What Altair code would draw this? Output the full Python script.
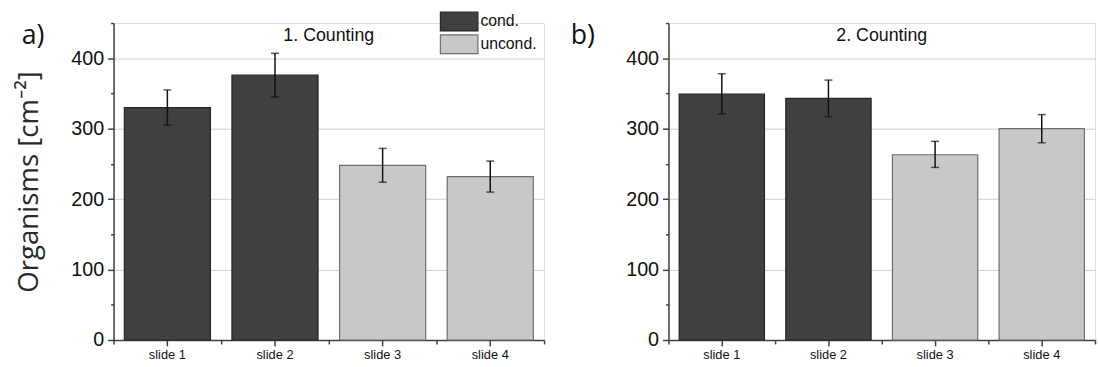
import altair as alt
import pandas as pd

slides = ["slide 1", "slide 2", "slide 3", "slide 4"]
groups = ["cond.", "cond.", "uncond.", "uncond."]

mean_a = [330, 376, 248, 232]
low_a = [305, 345, 224, 210]
high_a = [355, 407, 272, 254]

mean_b = [349, 343, 263, 300]
low_b = [321, 317, 245, 280]
high_b = [378, 369, 282, 320]

y_ticks = [0, 50, 100, 150, 200, 250, 300, 350, 400, 450]
x_minor_ticks = [0, 1, 2, 3, 4]  # boundaries between slide categories
group_domain = ["cond.", "uncond."]
fill_range = ["#404040", "#c8c8c8"]
stroke_range = ["#262626", "#6e6e6e"]

FONT = "Liberation Sans"
AX = "#404040"


def panel(letter, letter_x, title, mean, low, high, width, ytitle):
    df = pd.DataFrame({"slide": slides, "group": groups, "mean": mean,
                       "low": low, "high": high})
    xscale = alt.Scale(paddingInner=0.2, paddingOuter=0.1)
    yscale = alt.Scale(domain=[0, 450], nice=False)
    yaxis_kwargs = dict(
        values=y_ticks,
        labelExpr="datum.value % 100 === 0 ? datum.label : ''",
        tickSize={"condition": {"test": "datum.value % 100 === 0", "value": 6}, "value": 3},
        grid=True,
        gridColor="#cfcfcf",
        gridWidth=1,
        gridOpacity={"condition": {"test": "datum.value % 100 === 0 && datum.value > 0", "value": 1}, "value": 0},
        domainColor=AX, domainWidth=1.5, tickColor=AX, tickWidth=1.5,
        labelFont=FONT, labelFontSize=20, labelColor="#111111", labelPadding=4,
        labelOverlap=False,
    )
    if ytitle:
        yaxis = alt.Axis(title=ytitle, titleFont="Open Sans", titleFontSize=28,
                         titleFontWeight="normal", titleColor="#2a2a2a", titlePadding=28,
                         **yaxis_kwargs)
    else:
        yaxis = alt.Axis(title="", **yaxis_kwargs)

    legend = alt.Legend(orient="none", legendX=width - 96.5, legendY=-12, title=None,
                        symbolType="M-2,-1H2V1H-2Z", symbolSize=361,
                        symbolStrokeWidth=1.2, symbolOpacity=1, rowPadding=-5,
                        labelFont=FONT, labelFontSize=16, labelColor="#111111",
                        labelOffset=11, padding=0)

    bars = alt.Chart(df).mark_bar(strokeWidth=1.2, opacity=1).encode(
        x=alt.X("slide:N", sort=slides, scale=xscale,
                axis=alt.Axis(title=None, labelAngle=0, labelFont=FONT, labelFontSize=13,
                              labelColor="#111111", tickSize=6, tickColor=AX, tickWidth=1.5,
                              domainColor=AX, domainWidth=1.5, labelPadding=3, grid=False)),
        y=alt.Y("mean:Q", scale=yscale, axis=yaxis),
        color=alt.Color("group:N", scale=alt.Scale(domain=group_domain, range=fill_range),
                        legend=legend),
        stroke=alt.Stroke("group:N", scale=alt.Scale(domain=group_domain, range=stroke_range),
                          legend=legend),
    )

    rules = alt.Chart(df).mark_rule(color="#111111", strokeWidth=1.5).encode(
        x=alt.X("slide:N", sort=slides, scale=xscale),
        y=alt.Y("low:Q", scale=yscale, axis=yaxis),
        y2="high:Q",
    )
    caps_lo = alt.Chart(df).mark_tick(color="#111111", size=8, thickness=1.5, orient="horizontal").encode(
        x=alt.X("slide:N", sort=slides, scale=xscale),
        y=alt.Y("low:Q", scale=yscale, axis=yaxis),
    )
    caps_hi = alt.Chart(df).mark_tick(color="#111111", size=8, thickness=1.5, orient="horizontal").encode(
        x=alt.X("slide:N", sort=slides, scale=xscale),
        y=alt.Y("high:Q", scale=yscale, axis=yaxis),
    )
    main = alt.layer(bars, rules, caps_lo, caps_hi)

    mdf = pd.DataFrame({"pos": x_minor_ticks})
    minor = alt.Chart(mdf).mark_point(opacity=0).encode(
        x=alt.X("pos:Q", scale=alt.Scale(domain=[0, 4], nice=False, zero=False),
                axis=alt.Axis(orient="bottom", values=x_minor_ticks, labels=False,
                              tickSize=4, tickColor=AX, tickWidth=1.5, domain=False,
                              grid=False, title=None)),
        y=alt.value(321),
    )

    tdf = pd.DataFrame({"label": [title]})
    ttl = alt.Chart(tdf).mark_text(font=FONT, fontSize=18, color="#111111",
                                   align="center", baseline="alphabetic").encode(
        x=alt.value(width / 2), y=alt.value(18), text="label:N")
    ldf = pd.DataFrame({"label": [letter]})
    let = alt.Chart(ldf).mark_text(font="Open Sans", fontSize=27, color="#111111",
                                   align="left", baseline="alphabetic").encode(
        x=alt.value(letter_x), y=alt.value(21), text="label:N")

    return alt.layer(main, minor, ttl, let).resolve_scale(
        x="independent").properties(width=width, height=321)


pa = panel("a)", -93, "1. Counting", mean_a, low_a, high_a, 436, "Organisms [cm⁻²]")
pb = panel("b)", -99, "2. Counting", mean_b, low_b, high_b, 432, None)

chart = alt.hconcat(pa, pb, spacing=22).properties(
    padding={"left": 15, "top": 9, "right": 0, "bottom": 0}
).configure_view(strokeWidth=0).configure(background="white")

chart.save("out.html", embed_options={"renderer": "svg", "actions": False})
